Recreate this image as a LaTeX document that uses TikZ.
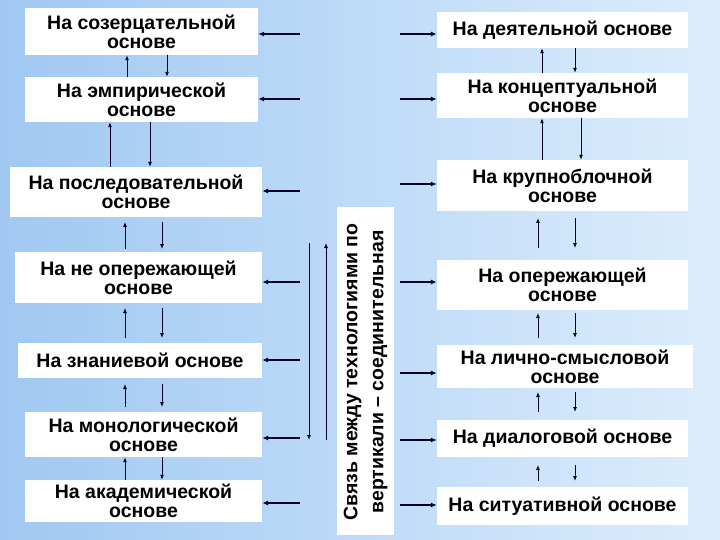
\documentclass[tikz,border=0pt]{standalone}
\usepackage{fontspec}
\setmainfont{Liberation Sans}
\usetikzlibrary{arrows.meta}
\begin{document}
\begin{tikzpicture}[x=1pt,y=-1pt,
 box/.style={fill=white,draw=none,inner sep=0pt,align=center,font=\bfseries\fontsize{19.5}{19}\selectfont},
 varr/.style={-{Latex[length=5pt,width=4pt]},line width=0.9pt,draw=black!85!blue},
 harr/.style={-{Latex[length=6pt,width=5pt]},line width=1.6pt,draw=black!85!blue}]
\shade[left color={rgb,255:red,160;green,200;blue,242},right color={rgb,255:red,220;green,237;blue,252}] (0,0) rectangle (720,540);
\useasboundingbox (0,0) rectangle (720,540);
% left
\node[box,minimum width=233pt,minimum height=47pt] (l1) at (141.5,31.5) {На созерцательной\\основе};
\node[box,minimum width=233pt,minimum height=45pt] (l2) at (141.5,99.5) {На эмпирической\\основе};
\node[box,minimum width=252pt,minimum height=50pt] (l3) at (136,192) {На последовательной\\основе};
\node[box,minimum width=247pt,minimum height=51pt] (l4) at (138.5,277.5) {На не опережающей\\основе};
\node[box,minimum width=244pt,minimum height=35pt] (l5) at (140,360.5) {На знаниевой основе};
\node[box,minimum width=237pt,minimum height=45pt] (l6) at (143.5,434.5) {На монологической\\основе};
\node[box,minimum width=237pt,minimum height=42pt] (l7) at (143.5,501) {На академической\\основе};
% right
\node[box,minimum width=251pt,minimum height=36pt] (r1) at (562.5,30) {На деятельной основе};
\node[box,minimum width=251pt,minimum height=45pt] (r2) at (562.5,95.5) {На концептуальной\\основе};
\node[box,minimum width=251pt,minimum height=51pt] (r3) at (562.5,185.5) {На крупноблочной\\основе};
\node[box,minimum width=251pt,minimum height=50pt] (r4) at (562.5,285) {На опережающей\\основе};
\node[box,minimum width=256pt,minimum height=43pt] (r5) at (565,366.5) {На лично-смысловой\\основе};
\node[box,minimum width=251pt,minimum height=37pt] (r6) at (562.5,438.5) {На диалоговой основе};
\node[box,minimum width=251pt,minimum height=38pt] (r7) at (562.5,506) {На ситуативной основе};
% middle
\node[box,minimum width=57pt,minimum height=328pt] (m) at (365.5,371) {};
\node[font=\bfseries\fontsize{19.5}{26}\selectfont,align=center,rotate=90,inner sep=0pt] (mt) at (365.5,372) {Связь между технологиями по\\вертикали -- соединительная};
% vertical arrows left
\draw[varr] (l2.north -| 127,0) -- (l1.south -| 127,0);
\draw[varr] (l1.south -| 167,0) -- (l2.north -| 167,0);
\draw[varr] (l3.north -| 110,0) -- (l2.south -| 110,0);
\draw[varr] (l2.south -| 150,0) -- (l3.north -| 150,0);
\coordinate (c34) at (0,222);\coordinate (c43) at (0,249);
\draw[varr] (c43 -| 125,0) -- (c34 -| 125,0);
\draw[varr] (c34 -| 162,0) -- (c43 -| 162,0);
\coordinate (c45) at (0,308);\coordinate (c54) at (0,338);
\draw[varr] (c54 -| 125,0) -- (c45 -| 125,0);
\draw[varr] (c45 -| 162,0) -- (c54 -| 162,0);
\coordinate (c56) at (0,384);\coordinate (c65) at (0,407);
\draw[varr] (c65 -| 125,0) -- (c56 -| 125,0);
\draw[varr] (c56 -| 162,0) -- (c65 -| 162,0);
\draw[varr] (l7.north -| 125,0) -- (l6.south -| 125,0);
\draw[varr] (l6.south -| 162,0) -- (l7.north -| 162,0);
% vertical arrows right
\draw[varr] (r2.north -| 542,0) -- (r1.south -| 542,0);
\draw[varr] (r1.south -| 575,0) -- (r2.north -| 575,0);
\draw[varr] (r3.north -| 542,0) -- (r2.south -| 542,0);
\draw[varr] (r2.south -| 581,0) -- (r3.north -| 581,0);
\coordinate (d34) at (0,218);\coordinate (d43) at (0,248);
\draw[varr] (d43 -| 538,0) -- (d34 -| 538,0);
\draw[varr] (d34 -| 575,0) -- (d43 -| 575,0);
\coordinate (d45) at (0,313);\coordinate (d54) at (0,338);
\draw[varr] (d54 -| 538,0) -- (d45 -| 538,0);
\draw[varr] (d45 -| 575,0) -- (d54 -| 575,0);
\coordinate (d56) at (0,392);\coordinate (d65) at (0,412);
\draw[varr] (d65 -| 538,0) -- (d56 -| 538,0);
\draw[varr] (d56 -| 575,0) -- (d65 -| 575,0);
\coordinate (d67) at (0,465);\coordinate (d76) at (0,481);
\draw[varr] (d76 -| 538,0) -- (d67 -| 538,0);
\draw[varr] (d67 -| 575,0) -- (d76 -| 575,0);
% long vertical
\coordinate (vt) at (0,243);\coordinate (vb) at (0,440);
\draw[varr] (vt -| 309,0) -- (vb -| 309,0);
\draw[varr] (vb -| 326,0) -- (vt -| 326,0);
% horizontal arrows
\foreach \n/\y in {l1/34,l2/99,l3/191,l4/282,l5/360,l6/438,l7/503}
  {\coordinate (s\n) at (300,\y); \draw[harr] (s\n) -- (s\n -| \n.east);}
\foreach \n/\y in {r1/34,r2/99,r3/184,r4/282,r5/373,r6/440,r7/505}
  {\coordinate (s\n) at (400,\y); \draw[harr] (s\n) -- (s\n -| \n.west);}
\end{tikzpicture}
\end{document}
